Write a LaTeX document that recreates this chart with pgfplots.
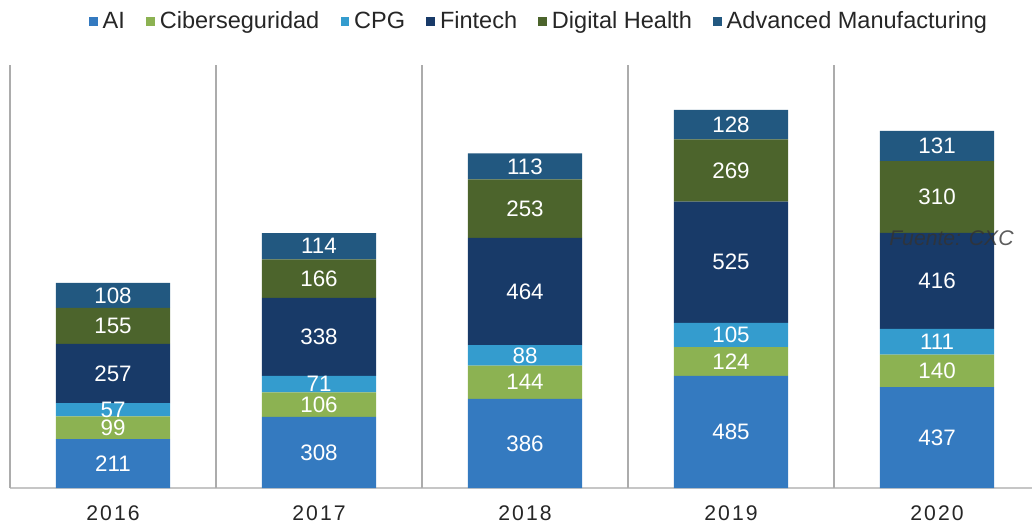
\documentclass[border=0pt]{standalone}
\usepackage{fontspec}
\setmainfont{Liberation Sans}
\newfontfamily\spaced[LetterSpace=10]{Liberation Sans}
\usepackage{pgfplots}
\pgfplotsset{compat=1.18}
\usetikzlibrary{calc}
\definecolor{cAI}{RGB}{52,122,192}
\definecolor{cCiber}{RGB}{140,178,82}
\definecolor{cCPG}{RGB}{52,156,206}
\definecolor{cFin}{RGB}{24,58,104}
\definecolor{cDH}{RGB}{76,100,44}
\definecolor{cAM}{RGB}{34,88,128}
\pgfplotsset{frame/.style={
    scale only axis,
    width=434.35pt, height=179.78pt,
    xmin=-0.5, xmax=4.461,
    ymin=0, ymax=1830}}

\begin{document}
\begin{tikzpicture}
\begin{axis}[
    frame,
    name=ax,
    ybar stacked,
    bar width=0.555,
    axis x line=bottom, axis y line=none,
    x axis line style={-, draw=gray!45, line width=0.8pt},
    xtick={0,1,2,3,4},
    xticklabels={2016,2017,2018,2019,2020},
    major tick length=0,
    xticklabel style={font=\spaced\fontsize{9}{10}\selectfont, text=black!85, yshift=-4pt},
    extra x ticks={-0.5,0.5,1.5,2.5,3.5},
    extra x tick labels={},
    extra x tick style={grid=major, major grid style={draw=gray!65, line width=0.7pt}},
    legend columns=6,
    legend style={draw=none, fill=none, at={(0.519,1.102)}, anchor=center,
        font=\fontsize{10}{12}\selectfont, text=black!85,
        /tikz/every even column/.append style={column sep=7pt},
        inner sep=0pt},
    legend image code/.code={\fill[#1, draw=none] (0pt,-1.9pt) rectangle (3.8pt,1.9pt);},
]
\addplot[fill=cAI, draw=none] coordinates {(0,211) (1,308) (2,386) (3,485) (4,437)};
\addplot[fill=cCiber, draw=none] coordinates {(0,99) (1,106) (2,144) (3,124) (4,140)};
\addplot[fill=cCPG, draw=none] coordinates {(0,57) (1,71) (2,88) (3,105) (4,111)};
\addplot[fill=cFin, draw=none] coordinates {(0,257) (1,338) (2,464) (3,525) (4,416)};
\addplot[fill=cDH, draw=none] coordinates {(0,155) (1,166) (2,253) (3,269) (4,310)};
\addplot[fill=cAM, draw=none] coordinates {(0,108) (1,114) (2,113) (3,128) (4,131)};
\legend{AI, Ciberseguridad, CPG, Fintech, Digital Health, Advanced Manufacturing}
\end{axis}
% segment labels, placed at the middle of each segment
\begin{axis}[
    frame,
    hide axis,
    point meta=explicit symbolic,
    nodes near coords,
    every node near coord/.append style={anchor=center, text=white,
        font=\fontsize{9.5}{10}\selectfont},
]
\addplot[only marks, mark=none] coordinates {
  (0,105.5)[211] (0,260.5)[99] (0,338.5)[57] (0,495.5)[257] (0,701.5)[155] (0,833)[108]
  (1,154)[308] (1,361)[106] (1,449.5)[71] (1,654)[338] (1,906)[166] (1,1046)[114]
  (2,193)[386] (2,458)[144] (2,574)[88] (2,850)[464] (2,1208.5)[253] (2,1391.5)[113]
  (3,242.5)[485] (3,547)[124] (3,661.5)[105] (3,976.5)[525] (3,1373.5)[269] (3,1572)[128]
  (4,218.5)[437] (4,507)[140] (4,632.5)[111] (4,896)[416] (4,1259)[310] (4,1479.5)[131]
};
\node[font=\itshape\fontsize{9}{10}\selectfont, text=black!80, opacity=0.8] at (axis cs:4.07,1081) {Fuente: CXC};
\end{axis}
\pgfresetboundingbox
\path ($(ax.south west)+(-4.25pt,-14.45pt)$) rectangle ($(ax.north east)+(0pt,27.625pt)$);
\end{tikzpicture}
\end{document}
